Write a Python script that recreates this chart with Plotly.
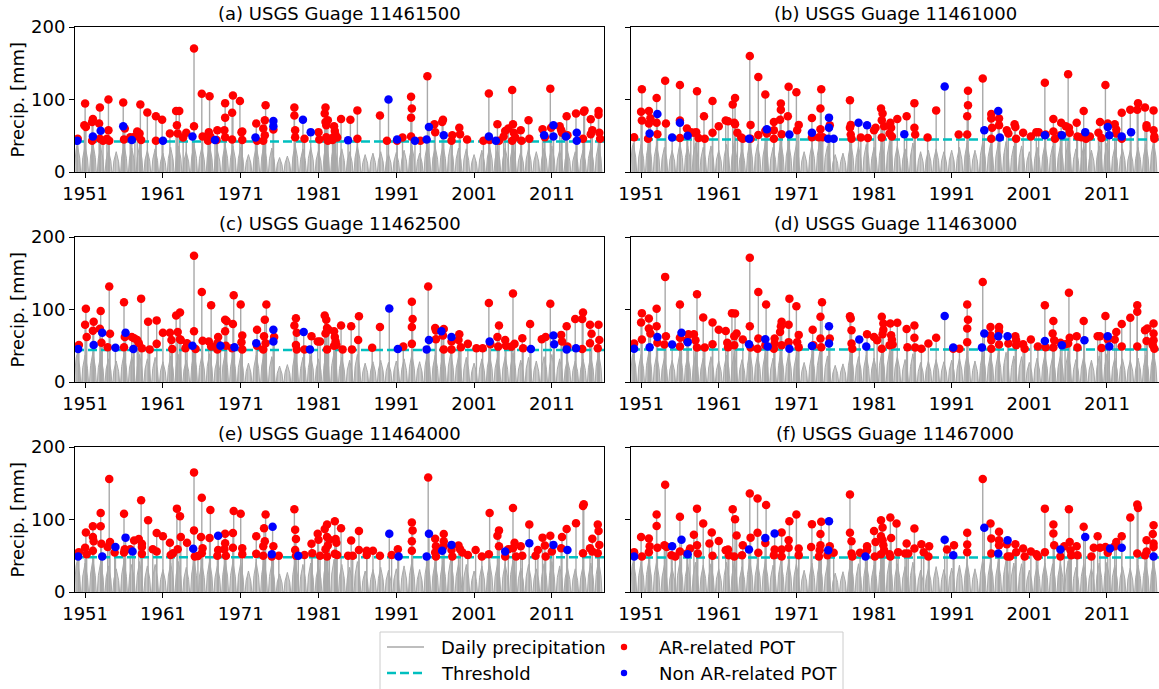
import plotly.graph_objects as go

W, H = 1159, 689
FONT = "DejaVu Sans"

# ---------------- data ----------------
GAUGES = ["11461500", "11461000", "11462500", "11463000", "11464000", "11467000"]
PANEL_TAGS = ["(a)", "(b)", "(c)", "(d)", "(e)", "(f)"]
THRESHOLDS = [42, 45, 44, 45, 48, 47.5]

FIRST_YEAR = 1950
# wet-season peak of the ordinary (non-POT) daily precipitation, one value per year 1950-2017
BG_A = [38, 36, 40, 34, 30, 28, 38, 33, 36, 30, 32, 26, 34, 36, 28, 38, 34, 37, 30, 38,
        36, 34, 24, 35, 38, 33, 20, 22, 38, 32, 34, 30, 40, 39, 32, 28, 36, 24, 26, 28,
        25, 27, 30, 36, 26, 38, 35, 37, 38, 33, 32, 24, 30, 35, 32, 33, 38, 28, 32, 28,
        33, 36, 30, 30, 28, 30, 34, 38]
BG_B = [40, 38, 42, 38, 34, 30, 40, 36, 40, 34, 36, 30, 38, 40, 32, 42, 38, 40, 34, 42,
        40, 38, 28, 38, 42, 36, 24, 26, 40, 36, 38, 34, 42, 42, 36, 32, 40, 28, 30, 32,
        28, 30, 34, 40, 30, 42, 38, 40, 42, 36, 36, 28, 34, 38, 36, 36, 42, 32, 36, 30,
        36, 40, 34, 32, 30, 34, 38, 42]
BG_C = [40, 37, 41, 36, 32, 29, 39, 35, 38, 32, 34, 28, 36, 38, 30, 41, 36, 39, 32, 40,
        38, 36, 26, 37, 40, 35, 22, 24, 40, 34, 36, 32, 41, 41, 34, 30, 38, 26, 28, 30,
        27, 29, 32, 38, 28, 40, 37, 39, 40, 35, 34, 26, 32, 37, 34, 35, 40, 30, 34, 29,
        35, 38, 32, 31, 29, 32, 36, 40]
BG_D = [41, 38, 42, 37, 33, 30, 40, 36, 39, 33, 35, 29, 37, 39, 31, 42, 37, 40, 33, 41,
        39, 37, 27, 38, 41, 36, 23, 25, 41, 35, 37, 33, 42, 42, 35, 31, 39, 27, 29, 31,
        28, 30, 33, 39, 29, 41, 38, 40, 41, 36, 35, 27, 33, 38, 35, 36, 41, 31, 35, 30,
        36, 39, 33, 32, 30, 33, 37, 41]
BG_E = [44, 40, 45, 41, 36, 32, 43, 38, 42, 36, 38, 31, 40, 42, 34, 45, 40, 43, 36, 44,
        42, 40, 29, 41, 44, 39, 25, 27, 44, 38, 40, 36, 45, 45, 38, 34, 42, 29, 31, 34,
        30, 32, 36, 42, 31, 44, 41, 43, 45, 39, 38, 29, 36, 41, 38, 39, 44, 33, 38, 32,
        39, 42, 36, 34, 32, 36, 40, 44]
BG_F = [43, 41, 44, 42, 37, 33, 42, 39, 41, 37, 39, 32, 41, 41, 35, 44, 41, 42, 37, 43,
        41, 39, 30, 40, 43, 38, 26, 28, 43, 39, 41, 37, 44, 44, 39, 35, 41, 30, 32, 35,
        31, 33, 37, 41, 32, 45, 42, 42, 44, 40, 39, 30, 37, 40, 39, 40, 43, 34, 39, 33,
        40, 41, 37, 35, 33, 37, 41, 43]

# peaks over threshold: (decimal year, precipitation mm)
AR_A = [(1950.05, 46), (1951.0, 94.5), (1950.9, 64.5), (1951.1, 62), (1951.9, 43), (1952.0, 73),
        (1951.9, 69), (1952.9, 89), (1952.8, 67), (1952.9, 46), (1953.3, 43), (1954.0, 100),
        (1954.0, 57.6), (1953.8, 46), (1954.1, 43), (1955.9, 96), (1956.1, 60), (1956.0, 45),
        (1956.8, 48), (1957.4, 49), (1957.7, 56), (1958.0, 53), (1958.1, 93), (1958.2, 44),
        (1959.0, 82), (1960.1, 77), (1960.1, 43), (1960.9, 72), (1961.9, 53), (1962.7, 84),
        (1963.1, 84), (1962.8, 64.5), (1962.9, 53), (1963.6, 47.5), (1964.0, 54), (1965.0, 170.5),
        (1965.0, 63), (1966.0, 108), (1966.1, 49), (1967.0, 104.6), (1966.9, 55), (1966.8, 43),
        (1967.1, 49), (1968.0, 57.6), (1967.9, 44), (1968.9, 57.6), (1969.0, 75), (1969.0, 95),
        (1969.0, 48), (1969.9, 81.6), (1970.0, 105.5), (1969.9, 44.7), (1970.9, 98), (1971.1, 55),
        (1971.2, 56), (1971.2, 44), (1973.0, 67), (1973.1, 43), (1973.9, 43), (1973.9, 60),
        (1974.1, 71.4), (1974.2, 92), (1974.1, 50.7), (1975.2, 58.5), (1977.9, 89), (1977.9, 78),
        (1978.0, 57.6), (1978.0, 48), (1979.2, 46), (1981.0, 55), (1981.1, 44.7), (1981.9, 89),
        (1981.8, 80.6), (1981.9, 69), (1982.0, 64.5), (1982.2, 71.4), (1982.0, 48), (1982.2, 43),
        (1983.0, 63), (1983.1, 56.7), (1982.9, 48), (1982.8, 44), (1983.2, 50.7), (1983.9, 73),
        (1983.4, 47.5), (1985.1, 72), (1986.0, 85), (1986.0, 46), (1988.9, 78), (1989.8, 43),
        (1991.1, 43), (1991.8, 47.5), (1992.9, 103.7), (1993.0, 87.6), (1992.9, 75), (1992.9, 49),
        (1994.1, 43), (1995.0, 132), (1995.9, 66), (1996.0, 55), (1997.0, 72), (1996.9, 69),
        (1998.1, 43), (1998.2, 50.7), (1999.1, 61), (1999.2, 52), (2000.1, 44.7), (2002.2, 43),
        (2002.9, 108.3), (2003.0, 44), (2004.0, 66), (2004.2, 43), (2004.8, 49), (2005.0, 56.7),
        (2005.4, 60), (2005.9, 113), (2006.0, 66), (2005.9, 43), (2006.1, 54), (2006.3, 47.5),
        (2007.0, 57.6), (2007.1, 43), (2008.0, 71.4), (2008.1, 46), (2009.8, 59), (2010.1, 48),
        (2010.8, 115), (2010.9, 61), (2012.0, 63), (2012.2, 57.6), (2012.3, 54), (2012.9, 77),
        (2013.0, 50.7), (2014.1, 80.6), (2015.0, 46), (2015.1, 83), (2015.2, 85), (2016.0, 72.8),
        (2016.2, 57.6), (2016.0, 52), (2017.0, 84), (2017.0, 79), (2017.1, 54), (2017.2, 46)]
NON_A = [(1950.0, 43), (1952.0, 49), (1953.0, 57), (1955.9, 63), (1957.0, 44), (1961.0, 43),
         (1964.8, 49), (1967.7, 44), (1972.9, 47.5), (1975.2, 70.5), (1975.2, 63), (1979.0, 72),
         (1980.0, 55), (1984.8, 43.8), (1990.0, 100), (1991.1, 44.7), (1993.4, 43), (1994.9, 44.7),
         (1995.2, 62), (1997.1, 50.7), (2002.9, 49), (2003.8, 43), (2010.0, 50.7), (2011.2, 64.5),
         (2011.2, 49), (2012.8, 49), (2014.2, 54), (2014.2, 43)]

AR_B = [(1950.1, 48), (1951.1, 114), (1951.0, 83), (1951.1, 71), (1951.9, 46), (1952.0, 84),
        (1952.2, 74), (1952.0, 67), (1953.0, 102), (1953.0, 68), (1953.1, 52), (1954.1, 126),
        (1954.2, 67), (1956.0, 120), (1956.0, 71), (1956.0, 47), (1956.9, 60), (1957.4, 55),
        (1957.8, 54), (1958.1, 55), (1958.2, 111.5), (1958.4, 47), (1959.1, 77), (1959.2, 46),
        (1960.2, 98), (1960.2, 54), (1961.0, 63), (1961.9, 71), (1962.2, 70), (1962.8, 93),
        (1963.1, 102), (1963.0, 68), (1963.1, 66), (1963.4, 54), (1963.9, 47.5), (1964.1, 46),
        (1965.0, 160), (1965.1, 65), (1965.1, 46), (1966.1, 131), (1966.1, 51), (1967.0, 107),
        (1967.0, 57), (1967.2, 53), (1968.1, 69), (1968.1, 57.6), (1968.1, 46), (1969.0, 94.5),
        (1969.0, 86), (1968.9, 72), (1969.1, 52), (1970.0, 117.5), (1969.9, 77), (1971.0, 110),
        (1971.3, 65), (1971.1, 57.6), (1973.0, 74.6), (1973.0, 48), (1974.2, 114), (1974.1, 87.6),
        (1974.1, 59), (1973.9, 48), (1974.4, 48), (1975.3, 64.5), (1977.9, 99), (1978.0, 65),
        (1977.9, 61), (1978.0, 51.6), (1978.1, 46), (1979.3, 47.5), (1980.2, 47), (1981.0, 57.6),
        (1981.2, 61), (1981.9, 87.6), (1982.1, 80.6), (1982.0, 71.4), (1982.3, 63), (1983.1, 68),
        (1983.2, 61), (1983.0, 53), (1983.3, 49), (1982.0, 47.5), (1984.0, 73), (1985.2, 77),
        (1986.2, 95), (1986.2, 61), (1986.3, 51.6), (1987.9, 47.5), (1989.0, 85), (1991.9, 51.6),
        (1993.1, 112), (1993.1, 92), (1993.0, 77), (1993.0, 51.6), (1995.0, 129), (1996.1, 80),
        (1996.1, 73.7), (1996.2, 61), (1996.1, 46), (1997.1, 73.7), (1997.1, 64.5), (1998.1, 57.6),
        (1998.3, 53), (1999.1, 66), (1999.2, 62), (1999.3, 46), (2000.2, 54), (2001.2, 49),
        (2001.9, 55), (2002.2, 55), (2003.0, 123), (2003.1, 51.6), (2004.1, 73), (2004.3, 46),
        (2004.1, 56), (2005.0, 50.7), (2005.1, 68), (2005.7, 63), (2006.0, 135), (2006.1, 61),
        (2006.2, 54), (2007.1, 68), (2007.2, 49), (2007.7, 48), (2008.0, 84), (2008.3, 46),
        (2008.8, 49), (2009.9, 54), (2010.1, 69), (2010.3, 47), (2010.8, 120), (2011.1, 67),
        (2012.0, 66), (2012.2, 58.5), (2012.2, 53), (2012.9, 81.6), (2012.9, 46), (2014.0, 86),
        (2014.9, 86), (2015.0, 95), (2015.9, 89), (2016.1, 61), (2016.1, 64.5), (2017.0, 85),
        (2017.0, 57.6), (2017.1, 49), (2017.1, 46)]
NON_B = [(1952.1, 53), (1953.1, 80), (1955.0, 47.5), (1956.0, 68), (1957.0, 50), (1964.9, 46),
         (1967.2, 59), (1970.1, 51.6), (1973.0, 54), (1975.2, 75), (1975.2, 61), (1975.1, 46),
         (1975.8, 46), (1979.0, 68), (1980.1, 64.5), (1984.9, 52), (1990.1, 118), (1995.2, 57.6),
         (1997.0, 84), (1997.2, 47.5), (2003.0, 50.7), (2005.2, 50.7), (2008.2, 55), (2011.1, 62),
         (2011.3, 50.7), (2012.9, 49), (2014.1, 55)]

AR_C = [(1950.2, 51), (1951.1, 101), (1951.0, 79), (1951.2, 62), (1952.1, 83), (1952.0, 70.7),
        (1953.0, 98), (1952.9, 73.5), (1953.1, 54), (1954.1, 131.6), (1954.2, 66.5), (1953.9, 48),
        (1956.0, 110), (1956.1, 62), (1956.0, 48), (1957.0, 62), (1957.3, 60.5), (1957.7, 58),
        (1957.9, 53.5), (1958.2, 115), (1958.3, 46.5), (1959.1, 83), (1959.3, 45), (1960.2, 85),
        (1960.2, 52.6), (1961.0, 68), (1961.9, 68), (1962.1, 58), (1962.2, 45.6), (1962.7, 91.6),
        (1963.2, 96), (1962.9, 69), (1963.2, 59), (1963.3, 58), (1963.9, 46.5), (1964.1, 53.5),
        (1965.0, 174), (1965.0, 70), (1965.2, 45.6), (1966.0, 124), (1966.1, 57), (1966.9, 56),
        (1967.2, 106), (1967.2, 49), (1968.1, 62), (1968.0, 53.5), (1968.0, 45), (1969.0, 86),
        (1969.2, 84), (1969.0, 70), (1969.1, 50), (1970.1, 119.5), (1970.0, 80), (1969.9, 46.5),
        (1971.0, 107), (1971.2, 64), (1971.1, 55), (1971.2, 45), (1973.1, 72), (1973.1, 50),
        (1973.9, 45), (1974.1, 86), (1974.3, 107), (1974.0, 63), (1974.2, 53.5), (1975.3, 62),
        (1978.1, 88), (1977.9, 78), (1978.2, 68), (1978.1, 51), (1978.2, 45), (1979.2, 45),
        (1980.1, 63), (1980.9, 56), (1981.2, 56), (1981.8, 91.6), (1982.0, 86), (1982.1, 74.4),
        (1981.9, 67), (1982.3, 72), (1982.1, 45), (1983.0, 70), (1983.1, 62), (1983.2, 56),
        (1983.0, 50), (1983.3, 51), (1983.9, 78), (1984.1, 45), (1985.2, 77), (1985.3, 45),
        (1986.2, 90.7), (1986.1, 58), (1987.9, 47.4), (1988.9, 76), (1991.9, 48.8), (1993.0, 110.7),
        (1993.1, 87), (1993.0, 76), (1993.0, 52.6), (1995.1, 131.6), (1996.0, 74.4), (1996.1, 59),
        (1996.1, 71), (1997.1, 73), (1997.0, 64), (1997.1, 45), (1998.1, 56), (1998.1, 45),
        (1999.1, 66), (1999.0, 58), (1999.3, 48), (2000.2, 52.6), (2001.3, 46.5), (2002.1, 46.5),
        (2002.9, 109), (2003.1, 52), (2004.2, 78), (2004.0, 62), (2004.1, 48.8), (2005.0, 58),
        (2005.1, 50), (2006.0, 122), (2006.2, 52.6), (2005.8, 48.8), (2007.2, 60.5), (2007.3, 46.5),
        (2008.2, 80), (2009.7, 59), (2010.2, 62), (2010.8, 108), (2012.2, 65), (2012.3, 56),
        (2012.9, 77), (2013.0, 48.8), (2014.0, 87), (2014.9, 87), (2015.0, 96), (2014.9, 45.6),
        (2015.9, 79), (2016.1, 66.5), (2015.9, 53.5), (2017.0, 79), (2017.1, 58), (2016.9, 46.5)]
NON_C = [(1950.1, 45.6), (1952.1, 51), (1953.2, 68), (1954.9, 47.4), (1956.2, 68), (1957.2, 45.6),
         (1964.8, 50), (1968.4, 50), (1970.2, 48), (1973.0, 53.5), (1975.2, 72), (1975.2, 56),
         (1979.1, 69), (1979.9, 45), (1990.1, 101.4), (1991.2, 45.6), (1994.9, 45), (1995.2, 58),
         (1996.8, 70), (1998.1, 62), (2003.0, 56), (2008.3, 45.6), (2011.2, 64), (2011.3, 52),
         (2012.9, 45), (2014.1, 46.5)]

AR_D = [(1950.1, 53), (1951.1, 95), (1951.0, 82), (1951.1, 58.5), (1952.0, 87.6), (1952.0, 73.7),
        (1952.2, 67), (1953.0, 101), (1953.0, 77), (1953.1, 54), (1954.1, 145), (1954.2, 63),
        (1954.0, 51.6), (1956.0, 107), (1956.0, 61), (1956.0, 49), (1957.1, 66), (1956.9, 57.6),
        (1957.8, 66), (1958.0, 57.6), (1958.2, 121), (1958.2, 47.5), (1959.0, 89), (1959.2, 47.5),
        (1960.2, 82), (1960.2, 52), (1961.0, 72), (1961.9, 70.5), (1962.1, 54), (1962.2, 48),
        (1962.7, 95), (1963.1, 94.5), (1963.0, 63), (1963.3, 67), (1963.0, 50.7), (1964.1, 58.5),
        (1965.0, 171.4), (1965.0, 77), (1965.1, 47.5), (1966.1, 124), (1966.1, 60), (1966.0, 46),
        (1967.1, 107), (1967.0, 50.7), (1968.2, 60), (1968.2, 53), (1968.1, 46), (1969.1, 83),
        (1969.0, 77), (1968.9, 69), (1969.1, 50.7), (1970.1, 115), (1970.0, 79), (1970.0, 55),
        (1971.0, 104.6), (1971.3, 65), (1971.1, 55), (1971.3, 48), (1973.1, 72), (1973.2, 50.7),
        (1974.3, 110), (1974.1, 90), (1974.1, 60), (1974.2, 48), (1975.3, 60), (1977.9, 90.8),
        (1978.0, 87.6), (1978.1, 71.4), (1978.1, 53), (1978.2, 46), (1980.1, 66), (1981.0, 62),
        (1981.4, 57.6), (1982.0, 90), (1982.2, 80.6), (1982.2, 72), (1982.1, 66), (1982.0, 46),
        (1983.1, 80.6), (1983.2, 64.5), (1983.3, 58.5), (1983.0, 50.7), (1984.0, 81.6), (1983.4, 51.6),
        (1985.2, 73), (1985.3, 48), (1986.2, 78), (1986.2, 61), (1986.3, 47.5), (1987.1, 46),
        (1988.0, 53), (1989.0, 61), (1991.2, 46), (1992.0, 46), (1993.0, 107), (1993.1, 86),
        (1993.0, 73.7), (1993.0, 55), (1995.0, 138), (1996.0, 76), (1996.0, 64.5), (1996.1, 57.6),
        (1996.1, 46), (1997.1, 76), (1997.1, 70), (1997.1, 51.6), (1998.3, 53), (1999.2, 63),
        (1999.3, 57.6), (1999.3, 50.7), (2000.2, 52), (2000.4, 46), (2001.2, 58.5), (2002.1, 49),
        (2003.0, 106), (2003.1, 48), (2004.1, 84), (2004.0, 67), (2004.2, 57.6), (2004.1, 47.5),
        (2005.0, 54), (2005.6, 52), (2006.1, 123), (2006.2, 61), (2006.0, 53), (2007.1, 63),
        (2007.2, 47.5), (2008.0, 84), (2009.8, 63), (2010.1, 63), (2010.3, 47), (2010.8, 91),
        (2011.1, 58.5), (2012.2, 69), (2012.0, 58.5), (2012.9, 80), (2012.9, 49), (2014.0, 88.5),
        (2014.9, 106), (2014.9, 96.8), (2014.9, 49), (2015.9, 71.4), (2016.1, 56.7), (2016.2, 73.7),
        (2017.0, 80.6), (2017.0, 67), (2017.0, 57.6), (2016.9, 50.7), (2017.1, 46)]
NON_D = [(1950.1, 46), (1952.1, 48), (1953.1, 62), (1955.0, 51.6), (1956.2, 68), (1957.0, 55),
         (1964.9, 52), (1967.0, 59), (1967.3, 49), (1970.1, 46), (1973.0, 49.8), (1975.2, 77),
         (1975.2, 53), (1979.1, 58.5), (1980.0, 49), (1990.1, 91), (1991.2, 47.5), (1995.2, 67),
         (1994.9, 47.5), (1997.0, 63), (1998.2, 63), (2003.0, 56.7), (2005.2, 50.7), (2008.1, 57.6),
         (2011.1, 63), (2011.3, 49)]

AR_E = [(1950.2, 55), (1951.1, 82), (1951.0, 61), (1951.2, 52), (1952.0, 90.7), (1952.0, 76),
        (1952.1, 70), (1952.0, 57), (1953.0, 109), (1953.0, 90.7), (1953.1, 66.5), (1954.1, 156),
        (1954.2, 69), (1953.9, 62), (1954.8, 54.4), (1956.0, 108), (1956.1, 59), (1956.0, 54.4),
        (1956.8, 59), (1957.3, 71), (1957.9, 73), (1958.2, 126.5), (1958.3, 66.5), (1958.3, 62),
        (1958.3, 52.6), (1959.1, 99), (1959.7, 59), (1960.2, 81.4), (1960.2, 56), (1961.0, 77),
        (1961.9, 68), (1962.0, 51), (1962.3, 53.5), (1962.8, 115), (1963.2, 104.6), (1963.3, 76),
        (1962.9, 59), (1964.1, 68), (1965.0, 165), (1965.0, 85), (1965.1, 49), (1965.5, 49.8),
        (1966.0, 130), (1965.9, 76), (1966.1, 60.5), (1966.0, 53.5), (1967.0, 74.4), (1967.1, 113),
        (1968.1, 58), (1968.0, 50), (1969.0, 80.5), (1969.0, 67.4), (1968.9, 59), (1969.1, 50),
        (1970.1, 111.6), (1970.0, 81.4), (1970.0, 61), (1971.0, 108), (1971.2, 60.5), (1971.2, 52),
        (1973.0, 77), (1973.0, 52.6), (1973.9, 63), (1974.0, 88), (1974.2, 107), (1974.1, 70),
        (1973.9, 50), (1975.0, 49), (1975.2, 63), (1975.9, 50), (1977.9, 114), (1978.0, 86),
        (1978.1, 73), (1978.0, 58), (1978.1, 50), (1979.2, 51), (1980.1, 66.5), (1980.2, 53.5),
        (1980.9, 80.5), (1981.0, 72), (1981.2, 50), (1981.8, 87), (1982.1, 93), (1982.1, 76),
        (1981.9, 59), (1982.2, 64), (1982.4, 72), (1982.1, 49), (1983.1, 97.7), (1983.2, 73),
        (1983.3, 68), (1983.1, 52.6), (1983.4, 51), (1983.9, 88), (1984.8, 50), (1985.2, 71),
        (1985.4, 50), (1986.2, 84), (1986.2, 58), (1987.2, 57), (1987.2, 51), (1988.0, 57),
        (1988.9, 50), (1990.4, 51), (1991.2, 59), (1993.0, 96), (1993.1, 85), (1993.0, 70),
        (1993.0, 57), (1995.1, 158), (1996.0, 73.5), (1996.1, 63), (1996.1, 49), (1996.0, 54.4),
        (1997.1, 80), (1997.1, 70), (1997.1, 63), (1998.1, 58), (1998.2, 49), (1999.0, 64),
        (1999.2, 59), (1999.5, 54.4), (2000.2, 51), (2001.2, 58), (2002.0, 49), (2002.9, 52),
        (2003.0, 109), (2004.0, 77.7), (2004.2, 85), (2004.2, 63), (2005.0, 49), (2005.4, 59),
        (2006.0, 116), (2006.2, 68), (2006.0, 60.5), (2006.4, 49), (2007.0, 63), (2007.2, 50),
        (2008.1, 93), (2009.2, 58), (2008.9, 50), (2009.8, 75), (2010.1, 64), (2010.2, 49),
        (2010.8, 77.7), (2011.0, 56), (2012.2, 60.5), (2012.3, 76), (2012.9, 87), (2014.1, 95),
        (2015.0, 118.6), (2015.1, 121), (2015.0, 53.5), (2015.9, 60.5), (2016.2, 73.5), (2016.2, 56),
        (2016.9, 93), (2017.0, 84), (2017.1, 65), (2016.9, 53.5)]
NON_E = [(1950.1, 49), (1953.2, 49), (1954.9, 62), (1956.2, 75), (1957.1, 56), (1964.9, 59.5),
         (1968.1, 77.7), (1975.1, 90), (1975.0, 52), (1978.4, 50), (1990.1, 80.5), (1991.3, 49),
         (1995.2, 80.5), (1994.9, 49), (1996.9, 57), (1998.1, 65), (2005.0, 56), (2008.1, 67.4),
         (2011.2, 65), (2013.0, 58)]

AR_F = [(1950.1, 55), (1951.0, 76), (1951.1, 49), (1952.0, 73.7), (1952.1, 63), (1952.0, 55),
        (1953.0, 107), (1953.0, 91), (1953.1, 61), (1954.1, 148), (1954.0, 64.5), (1954.3, 62),
        (1954.9, 50.7), (1955.4, 49), (1956.0, 103.7), (1956.0, 56), (1956.9, 53), (1957.3, 60),
        (1957.8, 79), (1958.2, 115), (1958.2, 64.5), (1958.3, 53), (1959.0, 94.5), (1959.8, 67),
        (1960.1, 82), (1960.2, 50), (1961.0, 70.5), (1961.9, 57.6), (1962.2, 58.5), (1962.3, 50.7),
        (1962.8, 114), (1963.1, 100.5), (1963.3, 78), (1963.0, 49), (1964.1, 64.5), (1964.0, 50.7),
        (1965.0, 136), (1965.1, 75), (1966.0, 129), (1966.0, 81.6), (1966.1, 54), (1967.1, 120),
        (1967.0, 67.7), (1968.2, 58.5), (1968.1, 50.7), (1969.1, 82), (1969.1, 58.5), (1969.1, 49),
        (1970.1, 97.7), (1970.0, 71.4), (1970.0, 61), (1971.0, 107), (1971.3, 60), (1971.3, 50.7),
        (1973.0, 93.5), (1972.9, 62), (1973.9, 49), (1974.2, 96.8), (1974.1, 80), (1974.1, 64.5),
        (1974.0, 57.6), (1975.3, 63), (1975.0, 50.7), (1975.8, 54), (1977.9, 134.6), (1977.9, 81.6),
        (1978.1, 70), (1978.1, 53), (1978.2, 49), (1979.2, 54), (1980.1, 63), (1980.1, 57.6),
        (1981.1, 49), (1981.0, 84), (1981.2, 69), (1981.9, 99), (1982.1, 89), (1981.9, 77),
        (1982.1, 71.4), (1982.2, 64.5), (1982.3, 57.6), (1981.9, 52), (1983.1, 102.7), (1983.2, 74.6),
        (1983.1, 49), (1983.0, 52), (1983.9, 94.5), (1984.1, 55), (1985.2, 67), (1985.0, 53),
        (1985.4, 53), (1986.2, 87.6), (1986.2, 60), (1987.1, 66), (1987.4, 55), (1988.1, 63),
        (1988.0, 49), (1990.4, 58.5), (1991.3, 64.5), (1993.0, 81.6), (1993.0, 65.4), (1993.0, 55),
        (1995.0, 155.8), (1996.0, 94.5), (1996.1, 73.7), (1996.1, 53), (1997.1, 83), (1997.1, 71.4),
        (1997.1, 64.5), (1998.1, 66), (1998.2, 49), (1998.5, 49), (1999.2, 66), (1999.3, 55),
        (2000.2, 60), (2000.4, 49), (2001.2, 56), (2001.9, 52), (2002.1, 49), (2003.0, 115),
        (2003.0, 55), (2004.1, 93), (2004.1, 80.6), (2004.2, 64.5), (2005.0, 49), (2005.5, 63),
        (2006.2, 69), (2006.1, 114), (2006.3, 57.6), (2006.4, 50.7), (2007.1, 63), (2007.2, 50.7),
        (2008.0, 90), (2009.0, 49), (2009.3, 61), (2009.8, 77), (2010.1, 61), (2010.8, 62),
        (2011.1, 54), (2012.0, 63), (2012.2, 69), (2012.9, 77), (2014.0, 102.7), (2014.9, 120.7),
        (2015.0, 116), (2014.9, 53), (2016.1, 71.4), (2015.9, 50.7), (2016.1, 56), (2017.0, 92),
        (2016.9, 80), (2017.0, 67), (2017.0, 62)]
NON_F = [(1950.1, 49), (1955.0, 63), (1956.2, 72), (1957.0, 52), (1964.9, 58.5), (1967.0, 74.6),
         (1968.2, 80.6), (1975.2, 97.7), (1975.1, 57.6), (1979.9, 49), (1990.1, 72), (1991.2, 50.7),
         (1995.2, 88.5), (1997.0, 53), (1998.2, 71.4), (2005.0, 58.5), (2008.2, 76), (2011.4, 60),
         (2012.9, 61), (2017.0, 49)]

BACKGROUND = [BG_A, BG_B, BG_C, BG_D, BG_E, BG_F]
AR_POT = [AR_A, AR_B, AR_C, AR_D, AR_E, AR_F]
NON_AR_POT = [NON_A, NON_B, NON_C, NON_D, NON_E, NON_F]

X_RANGE = [1949.7, 2017.7]
Y_RANGE = [0, 200]
X_TICKS = [1951, 1961, 1971, 1981, 1991, 2001, 2011]
Y_TICKS = [0, 100, 200]

# ---------------- style ----------------
GRAY = "#a9a9a9"
CYAN = "#00bfbf"
RED = "#ff0000"
BLUE = "#0000ff"
# shape of one wet-season bundle: (offset in years, fraction of that year's peak)
SEASON_PROFILE = [(-0.43, 0.0), (-0.3, 0.55), (-0.16, 0.82), (-0.05, 0.95), (0.0, 1.0),
                  (0.06, 0.9), (0.18, 0.75), (0.31, 0.5), (0.43, 0.0)]


def px_x(p):
    return p / W


def px_y(p):
    return 1 - p / H


COL_X = [(75, 604), (631, 1159)]
ROW_Y = [(27, 172), (237, 382), (447, 592)]

fig = go.Figure()
annotations = []
shapes = []

for i in range(6):
    row, col = divmod(i, 2)
    ax = "" if i == 0 else str(i + 1)
    xref, yref = "x" + ax, "y" + ax

    # ordinary daily precipitation: one wet-season bundle per year
    hx, hy = [], []
    for k, h in enumerate(BACKGROUND[i]):
        yr = FIRST_YEAR + k
        for dx, frac in SEASON_PROFILE:
            hx.append(yr + dx)
            hy.append(h * frac)
    fig.add_trace(go.Scatter(x=hx, y=hy, mode="lines", fill="tozeroy",
                             fillcolor="#c4c4c4",
                             fillpattern=dict(shape="|", fgcolor="#9c9c9c",
                                              bgcolor="#d2d2d2", size=3, solidity=0.55),
                             line=dict(color=GRAY, width=1), hoverinfo="skip",
                             showlegend=False, xaxis=xref, yaxis=yref))

    # storm days rising from the daily series
    sx, sy = [], []
    for t, v in AR_POT[i] + NON_AR_POT[i]:
        sx += [t, t, None]
        sy += [0, v, None]
    fig.add_trace(go.Scatter(x=sx, y=sy, mode="lines",
                             line=dict(color=GRAY, width=1.4), hoverinfo="skip",
                             showlegend=False, xaxis=xref, yaxis=yref))

    fig.add_trace(go.Scatter(x=X_RANGE, y=[THRESHOLDS[i]] * 2, mode="lines",
                             line=dict(color=CYAN, width=2.5, dash="9px,4px"),
                             showlegend=False, xaxis=xref, yaxis=yref))

    for pts, colr in ((AR_POT[i], RED), (NON_AR_POT[i], BLUE)):
        fig.add_trace(go.Scatter(x=[p[0] for p in pts], y=[p[1] for p in pts],
                                 mode="markers",
                                 marker=dict(color=colr, size=8.5, line=dict(width=0)),
                                 showlegend=False, xaxis=xref, yaxis=yref))

    x0, x1 = COL_X[col]
    y0, y1 = ROW_Y[row]
    common = dict(showline=True, linecolor="black", linewidth=1, mirror=True,
                  ticks="outside", ticklen=5, tickwidth=1, tickcolor="black",
                  showgrid=False, zeroline=False, automargin=False,
                  tickfont=dict(family=FONT, size=18, color="black"))
    fig.layout["xaxis" + ax] = dict(domain=[px_x(x0), min(px_x(x1), 1.0)], anchor=yref,
                                    range=X_RANGE, tickmode="array", tickvals=X_TICKS,
                                    ticktext=[str(t) for t in X_TICKS], **common)
    fig.layout["yaxis" + ax] = dict(domain=[px_y(y1), px_y(y0)], anchor=xref,
                                    range=Y_RANGE, tickmode="array", tickvals=Y_TICKS,
                                    showticklabels=(col == 0), **common)

    annotations.append(dict(text=f"{PANEL_TAGS[i]} USGS Guage {GAUGES[i]}",
                            xref="paper", yref="paper", x=px_x((x0 + x1) / 2), y=px_y(y0),
                            xanchor="center", yanchor="bottom", yshift=1, showarrow=False,
                            font=dict(family=FONT, size=18, color="black")))
    if col == 0:
        annotations.append(dict(text="Precip. [mm]", xref="paper", yref="paper",
                                x=px_x(17), y=px_y((y0 + y1) / 2), textangle=-90,
                                xanchor="center", yanchor="middle", showarrow=False,
                                font=dict(family=FONT, size=18, color="black")))

# legend box
shapes.append(dict(type="rect", xref="paper", yref="paper",
                   x0=px_x(380), x1=px_x(843), y0=px_y(700), y1=px_y(632),
                   line=dict(color="#cccccc", width=1), fillcolor="white", layer="above"))
shapes.append(dict(type="line", xref="paper", yref="paper",
                   x0=px_x(387), x1=px_x(424), y0=px_y(647), y1=px_y(647),
                   line=dict(color=GRAY, width=1.5), layer="above"))
shapes.append(dict(type="line", xref="paper", yref="paper",
                   x0=px_x(387), x1=px_x(424), y0=px_y(673), y1=px_y(673),
                   line=dict(color=CYAN, width=2.5, dash="9px,4px"), layer="above"))
for yy, colr in ((647, RED), (673, BLUE)):
    shapes.append(dict(type="circle", xref="paper", yref="paper",
                       xsizemode="pixel", ysizemode="pixel",
                       xanchor=px_x(624), yanchor=px_y(yy), x0=-3.2, x1=3.2, y0=-3.2, y1=3.2,
                       fillcolor=colr, line=dict(width=0), layer="above"))
for txt, xx, yy in (("Daily precipitation", 439, 647), ("Threshold", 439, 673),
                    ("AR-related POT", 657, 647), ("Non AR-related POT", 657, 673)):
    annotations.append(dict(text=txt, xref="paper", yref="paper", x=px_x(xx), y=px_y(yy),
                            xanchor="left", yanchor="middle", showarrow=False,
                            font=dict(family=FONT, size=18, color="black")))

fig.update_layout(width=W, height=H, margin=dict(l=0, r=0, t=0, b=0),
                  paper_bgcolor="white", plot_bgcolor="white",
                  annotations=annotations, shapes=shapes, showlegend=False)

fig.write_html("out.html")
